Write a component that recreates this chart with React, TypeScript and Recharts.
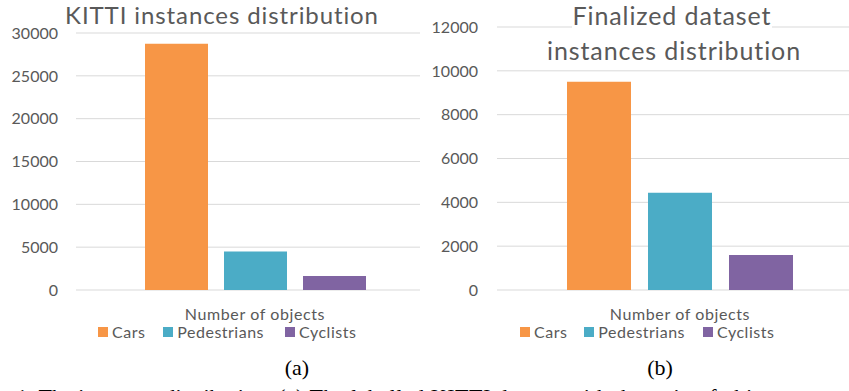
import React from 'react';
import { BarChart, Bar, XAxis, YAxis, CartesianGrid } from 'recharts';

const categories = ['Number of objects'];
const seriesNames = ['Cars', 'Pedestrians', 'Cyclists'];
const seriesColors = ['#F79646', '#4BACC6', '#8064A2'];
const kittiValues = [28742, 4487, 1627];
const finalValues = [9500, 4440, 1600];
const kittiTicks = [0, 5000, 10000, 15000, 20000, 25000, 30000];
const finalTicks = [0, 2000, 4000, 6000, 8000, 10000, 12000];
const kittiTitle = 'KITTI instances distribution';
const finalTitleLines = ['Finalized dataset', 'instances distribution'];
const captionLeft = 'Fig. 1: The instances distribution:';
const captionRight = '(a) The labelled KITTI dataset with the ratio of objects';

const FONT = 'Lato, "Open Sans", sans-serif';
const GRAY = '#595959';

function buildRows(values: number[]) {
  return categories.map((name) => {
    const row: Record<string, string | number> = { name };
    seriesNames.forEach((s, i) => {
      row[s] = values[i];
    });
    return row;
  });
}

function SeriesLegend(props: { left: number; gaps: number[] }) {
  return (
    <div style={{ position: 'absolute', left: props.left, top: 324, height: 16, display: 'flex', alignItems: 'center', fontFamily: FONT, fontSize: 16, letterSpacing: 0.5, color: GRAY, lineHeight: '16px', whiteSpace: 'nowrap' }}>
      {seriesNames.map((s, i) => (
        <div key={s} style={{ display: 'flex', alignItems: 'center', marginRight: props.gaps[i] }}>
          <span style={{ display: 'inline-block', width: 10, height: 10, background: seriesColors[i], marginRight: 4 }} />
          <span>{s}</span>
        </div>
      ))}
    </div>
  );
}

function Panel(props: {
  values: number[];
  ticks: number[];
  width: number;
  marginTop: number;
  yWidth: number;
  tickMargin: number;
  barSize: number;
  barGap: number;
}) {
  const rows = buildRows(props.values);
  const max = props.ticks[props.ticks.length - 1];
  return (
    <BarChart
      width={props.width}
      height={391}
      data={rows}
      margin={{ top: props.marginTop, right: 0, bottom: 71, left: 0 }}
      barSize={props.barSize}
      barGap={props.barGap}
    >
      <CartesianGrid vertical={false} stroke="#D9D9D9" strokeWidth={1} />
      <XAxis
        dataKey="name"
        axisLine={false}
        tickLine={false}
        tickSize={0}
        tickMargin={19}
        height={30}
        tick={{ fill: GRAY, fontSize: 16, fontFamily: FONT, letterSpacing: 0.6 }}
      />
      <YAxis
        domain={[0, max]}
        ticks={props.ticks}
        axisLine={false}
        tickLine={false}
        tickSize={0}
        tickMargin={props.tickMargin}
        width={props.yWidth}
        interval={0}
        tick={{ fill: GRAY, fontSize: 16, fontFamily: FONT }}
      />
      {seriesNames.map((s, i) => (
        <Bar key={s} dataKey={s} name={s} fill={seriesColors[i]} isAnimationActive={false} />
      ))}
    </BarChart>
  );
}

const serif = '"Liberation Serif", "Times New Roman", serif';

export default function App() {
  return (
    <div style={{ position: 'absolute', left: 0, top: 0, width: 849, height: 391, background: '#fff', overflow: 'hidden' }}>
      <div style={{ position: 'absolute', left: 0, top: 0, width: 420, height: 391, overflow: 'hidden' }}>
        <Panel values={kittiValues} ticks={kittiTicks} width={434} marginTop={33} yWidth={76} tickMargin={18} barSize={63} barGap={16} />
        <div style={{ position: 'absolute', left: 22, width: 400, top: 0, textAlign: 'center', fontFamily: FONT, fontSize: 24, letterSpacing: 0.9, lineHeight: '29px', color: GRAY, whiteSpace: 'nowrap' }}>
          {kittiTitle}
        </div>
        <SeriesLegend left={98} gaps={[18, 21, 0]} />
      </div>
      <div style={{ position: 'absolute', left: 420, top: 0, width: 429, height: 391, overflow: 'hidden' }}>
        <Panel values={finalValues} ticks={finalTicks} width={443} marginTop={27} yWidth={77} tickMargin={19} barSize={64} barGap={17} />
        <div style={{ position: 'absolute', left: 52, width: 400, top: 0, textAlign: 'center', fontFamily: FONT, fontSize: 25, letterSpacing: 0.9, lineHeight: '30px', color: GRAY, whiteSpace: 'nowrap' }}>
          <span style={{ background: '#fff', padding: '0 1px' }}>{finalTitleLines[0]}</span>
        </div>
        <div style={{ position: 'absolute', left: 54, width: 400, top: 35, textAlign: 'center', fontFamily: FONT, fontSize: 25, letterSpacing: 0.9, lineHeight: '30px', color: GRAY, whiteSpace: 'nowrap' }}>
          {finalTitleLines[1]}
        </div>
        <SeriesLegend left={100} gaps={[17, 18, 0]} />
      </div>
      <div style={{ position: 'absolute', left: 197, width: 200, top: 356, textAlign: 'center', fontFamily: serif, fontSize: 22, lineHeight: '24px', color: '#000' }}>(a)</div>
      <div style={{ position: 'absolute', left: 560, width: 200, top: 356, textAlign: 'center', fontFamily: serif, fontSize: 22, lineHeight: '24px', color: '#000' }}>(b)</div>
      <div style={{ position: 'absolute', right: 849 - 272, top: 385, fontFamily: serif, fontSize: 22, lineHeight: '24px', color: '#000', whiteSpace: 'nowrap' }}>{captionLeft}</div>
      <div style={{ position: 'absolute', left: 278, top: 385, fontFamily: serif, fontSize: 22, lineHeight: '24px', color: '#000', whiteSpace: 'nowrap', letterSpacing: 0.5 }}>{captionRight}</div>
    </div>
  );
}
